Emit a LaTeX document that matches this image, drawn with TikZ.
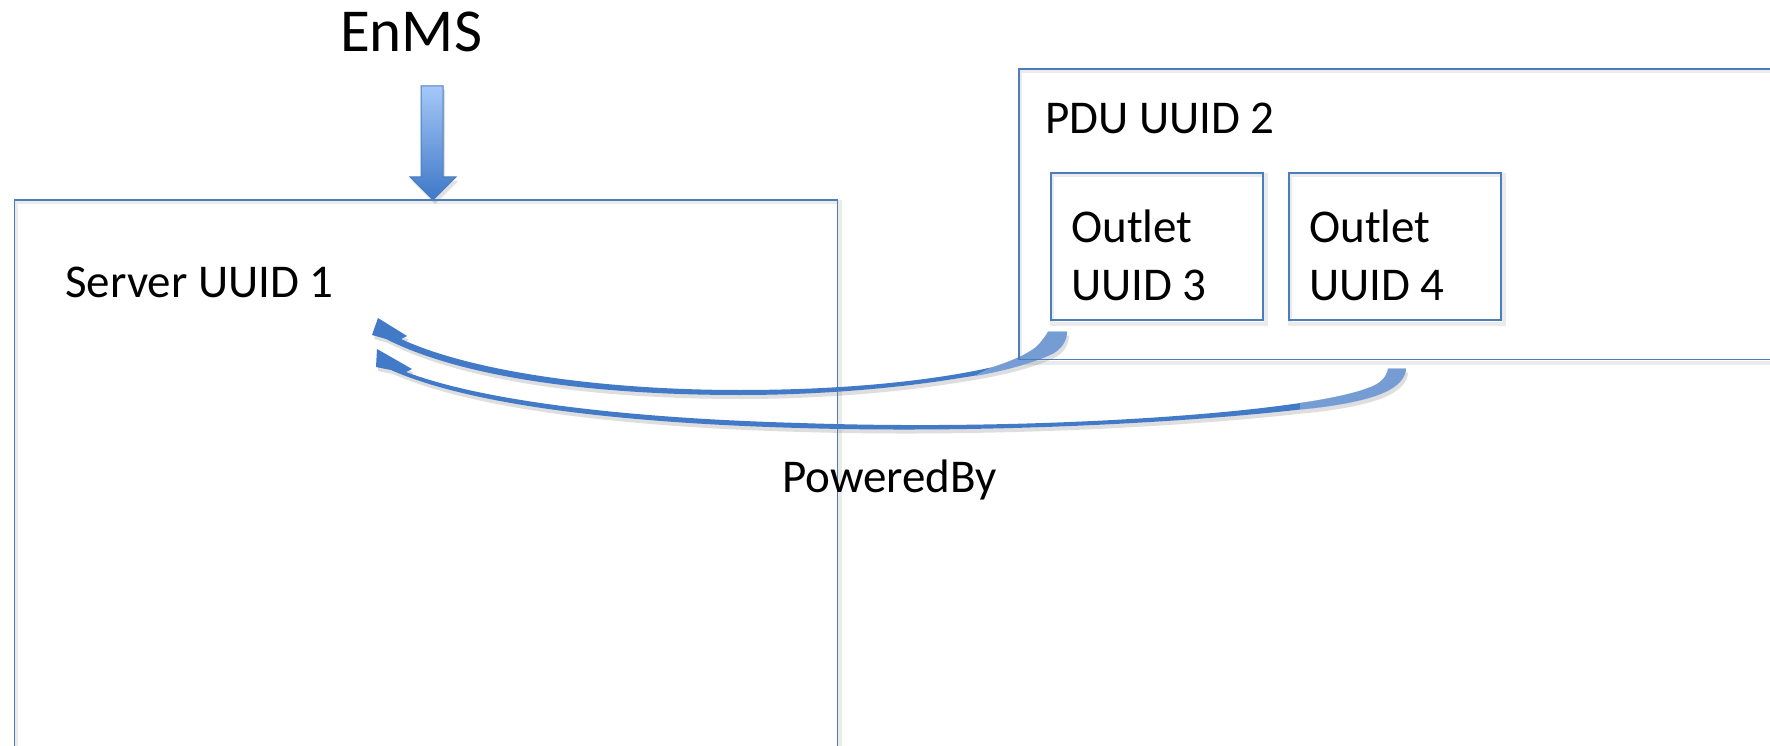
\documentclass[tikz,border=0pt]{standalone}
\usepackage{fontspec}
\setmainfont{Carlito}
\usetikzlibrary{calc,backgrounds}

\definecolor{boxline}{HTML}{4A7EBB}
\definecolor{arrowfill}{HTML}{427AC8}
\definecolor{bandfill}{HTML}{5F8BCD}
\definecolor{droptop}{HTML}{A5C8F8}
\definecolor{dropbottom}{HTML}{3E78C8}

\tikzset{
  boxframe/.style={draw=boxline, line width=1.6pt, rectangle, inner sep=0pt, anchor=north west},
  boxshadow/.style={draw=black, draw opacity=0.08, line width=4pt},
  txt/.style={anchor=base west, inner sep=0pt, font=\fontsize{47}{56}\selectfont},
  arrowbody/.style={fill=arrowfill},
  arrowband/.style={fill=bandfill, fill opacity=0.85},
  arrowshadow/.style={fill=black, fill opacity=0.13, transform canvas={shift={(2,4)}}},
}

% outline of the PoweredBy arrow leaving outlet 3
\newcommand\pathPowerA{(tipA) -- (407,336) -- (401,339)
  .. controls (470,371) and (600,390) .. (740,390)
  .. controls (860,390) and (945,378) .. (993,367)
  .. controls (1012,361) and (1033,352) .. (1040,343)
  .. controls (1044,338) and (1047,334) .. ($(footA)+(-9.5,0)$)
  -- ($(footA)+(9.5,0)$)
  .. controls (1067,340) and (1062,350) .. (1050,355)
  .. controls (1030,364) and (1000,372) .. (960,378)
  .. controls (900,388) and (820,395) .. (740,395)
  .. controls (600,395) and (465,379) .. (386,339)
  -- (372,335) -- cycle}
% wide end of that arrow, next to the outlet
\newcommand\bandPowerA{(993,367)
  .. controls (1012,361) and (1033,352) .. (1040,343)
  .. controls (1044,338) and (1047,334) .. ($(footA)+(-9.5,0)$)
  -- ($(footA)+(9.5,0)$)
  .. controls (1067,340) and (1062,350) .. (1050,355)
  .. controls (1030,364) and (1000,372) .. (975,376) -- cycle}

% outline of the PoweredBy arrow leaving outlet 4
\newcommand\pathPowerB{(tipB) -- (412,369) -- (406,372)
  .. controls (480,400) and (620,418) .. (800,423)
  .. controls (1000,430) and (1200,418) .. (1300,403)
  .. controls (1335,398) and (1365,391) .. (1377,384)
  .. controls (1385,379) and (1388,372) .. ($(footB)+(-9,0)$)
  -- ($(footB)+(9,0)$)
  .. controls (1406,377) and (1398,387) .. (1383,393)
  .. controls (1370,399) and (1340,406) .. (1300,409.5)
  .. controls (1200,421) and (1000,434) .. (800,428)
  .. controls (620,423) and (470,405) .. (391,370)
  -- (376,367) -- cycle}
\newcommand\bandPowerB{(1300,403)
  .. controls (1335,398) and (1365,391) .. (1377,384)
  .. controls (1385,379) and (1388,372) .. ($(footB)+(-9,0)$)
  -- ($(footB)+(9,0)$)
  .. controls (1406,377) and (1398,387) .. (1383,393)
  .. controls (1370,399) and (1340,406) .. (1300,409.5) -- cycle}

\begin{document}
\begin{tikzpicture}[x=1pt,y=-1pt]
\useasboundingbox (0,0) rectangle (1770,746);

% frames
\node[boxframe, minimum width=823pt, minimum height=570pt] (server) at (13.5,199) {};
\node[boxframe, minimum width=800pt, minimum height=290pt] (pdu) at (1018,68.5) {};
\node[boxframe, minimum width=212pt, minimum height=147pt] (out3) at (1050,172) {};
\node[boxframe, minimum width=212pt, minimum height=147pt] (out4) at (1288,172) {};

% texts
\node[txt, font=\fontsize{61}{70}\selectfont] (enms) at (340,52) {EnMS};
\node[txt] (srvlabel) at (65,297) {Server UUID 1};
\node[txt] (pdulabel) at (1045,134) {PDU UUID 2};
\node[txt] (o3top) at (1071,243) {Outlet};
\node[txt] (o3bot) at (1071,300) {UUID 3};
\node[txt] (o4top) at (1309,243) {Outlet};
\node[txt] (o4bot) at (1309,300) {UUID 4};
\node[txt] (pb) at (782,492) {PoweredBy};

% arrow end points
\coordinate (footA) at ($(out3.south west)+(7.5,11)$);
\coordinate (footB) at ($(out4.south west)+(109,48)$);
\coordinate (tipA) at (378,318);
\coordinate (tipB) at (377,349);
\coordinate (dropTip) at ($(server.north west)+(419.5,1)$);

\begin{pgfonlayer}{background}
  % soft shadows of the frames
  \foreach \n in {server,pdu,out3,out4}
    \draw[boxshadow] ($(\n.north west)+(2,3)$) rectangle ($(\n.south east)+(2,3)$);

  % EnMS feeding the server
  \fill[black, fill opacity=0.12, transform canvas={shift={(2,4)}}]
    (dropTip) -- ++(-23,-23) -- ++(11,0) -- ++(0,-91) -- ++(22,0) -- ++(0,91) -- ++(13,0) -- cycle;
  \shade[top color=droptop, bottom color=dropbottom, draw=boxline, line width=1pt]
    (dropTip) -- ++(-23,-23) -- ++(11,0) -- ++(0,-91) -- ++(22,0) -- ++(0,91) -- ++(13,0) -- cycle;

  % PoweredBy arrows from the outlets to the server
  \fill[arrowshadow] \pathPowerA;
  \fill[arrowshadow] \pathPowerB;
  \fill[arrowbody] \pathPowerA;
  \fill[arrowbody] \pathPowerB;
  \fill[white] \bandPowerA;
  \fill[white] \bandPowerB;
  \fill[arrowband] \bandPowerA;
  \fill[arrowband] \bandPowerB;
\end{pgfonlayer}
\end{tikzpicture}
\end{document}
